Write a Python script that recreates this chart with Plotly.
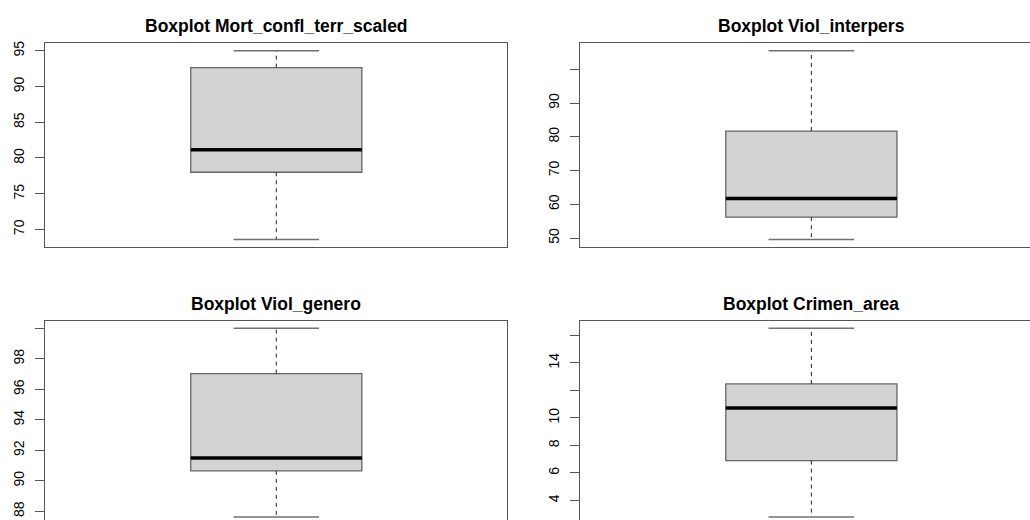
import plotly.graph_objects as go

# ---- data ----
titles = ["Boxplot Mort_confl_terr_scaled", "Boxplot Viol_interpers",
          "Boxplot Viol_genero", "Boxplot Crimen_area"]
lower_whisker = [68.6, 49.6, 87.63, 2.8]
q1_vals = [78.0, 56.2, 90.65, 6.89]
median_vals = [81.14, 61.7, 91.5, 10.71]
q3_vals = [92.63, 81.7, 97.03, 12.46]
upper_whisker = [95.0, 105.5, 100.0, 16.5]

tick_vals = [
    [70, 75, 80, 85, 90, 95],
    [50, 60, 70, 80, 90, 100],
    [88, 90, 92, 94, 96, 98, 100],
    [4, 6, 8, 10, 12, 14, 16],
]
tick_text = [
    ["70", "75", "80", "85", "90", "95"],
    ["50", "60", "70", "80", "90", ""],
    ["88", "90", "92", "94", "96", "98", ""],
    ["4", "6", "8", "10", "", "14", ""],
]
y_ranges = [[67.54, 96.06], [47.36, 107.74], [87.43, 100.49], [2.58, 17.05]]

# ---- layout / style ----
W, H = 1030, 520
pos = 1.0
box_w = 0.4
staple_w = 0.2
FONT = "Liberation Sans, Arial, sans-serif"
FRAME = "#555555"

x_domains = [[45.3 / W, 507.3 / W], [580.3 / W, 1.0], [45.3 / W, 507.3 / W], [580.3 / W, 1.0]]
y_domains = [[1 - 246 / H, 1 - 41.3 / H], [1 - 246 / H, 1 - 41.3 / H],
             [0.0, 1 - 320 / H], [0.0, 1 - 320 / H]]
x_ranges = [[0.46, 1.54], [0.46, 1.511], [0.46, 1.54], [0.46, 1.511]]
title_x = [276.3 / W, 811.0 / W, 276.3 / W, 811.0 / W]
title_y = [1 - 24.3 / H, 1 - 24.3 / H, 1 - 303.3 / H, 1 - 303.3 / H]
# frame sides visible in the (cropped) reference picture
right_cut = [False, True, False, True]
bottom_cut = [False, False, True, True]

fig = go.Figure()
layout = dict(width=W, height=H, margin=dict(l=0, r=0, t=0, b=0),
              paper_bgcolor="white", plot_bgcolor="white", showlegend=False,
              font=dict(family=FONT, color="black"))
annotations = []

for i in range(4):
    sfx = "" if i == 0 else str(i + 1)
    xa, ya = "x" + sfx, "y" + sfx
    # box body
    fig.add_trace(go.Box(
        x=[pos], q1=[q1_vals[i]], median=[median_vals[i]], q3=[q3_vals[i]],
        lowerfence=[q1_vals[i]], upperfence=[q3_vals[i]],
        width=box_w, whiskerwidth=0, boxpoints=False,
        fillcolor="#D3D3D3", line=dict(color="#666666", width=1.3),
        xaxis=xa, yaxis=ya, hoverinfo="skip"))
    # dashed whiskers
    fig.add_trace(go.Scatter(
        x=[pos, pos, None, pos, pos],
        y=[q3_vals[i], upper_whisker[i], None, q1_vals[i], lower_whisker[i]],
        mode="lines", line=dict(color="#222222", width=1, dash="4px,4px"),
        xaxis=xa, yaxis=ya, hoverinfo="skip"))
    # staples
    fig.add_trace(go.Scatter(
        x=[pos - staple_w / 2, pos + staple_w / 2, None, pos - staple_w / 2, pos + staple_w / 2],
        y=[upper_whisker[i], upper_whisker[i], None, lower_whisker[i], lower_whisker[i]],
        mode="lines", line=dict(color="#707070", width=1.5),
        xaxis=xa, yaxis=ya, hoverinfo="skip"))
    # median
    fig.add_trace(go.Scatter(
        x=[pos - box_w / 2, pos + box_w / 2], y=[median_vals[i], median_vals[i]],
        mode="lines", line=dict(color="black", width=3.5),
        xaxis=xa, yaxis=ya, hoverinfo="skip"))

    layout["xaxis" + sfx] = dict(
        domain=x_domains[i], range=x_ranges[i], anchor=ya,
        side="top" if bottom_cut[i] else "bottom",
        showticklabels=False, ticks="", showgrid=False, zeroline=False,
        showline=True, mirror=not bottom_cut[i], linecolor=FRAME, linewidth=1)
    layout["yaxis" + sfx] = dict(
        domain=y_domains[i], range=y_ranges[i], anchor=xa,
        tickvals=tick_vals[i], ticktext=tick_text[i], tickangle=-90,
        ticks="outside", ticklen=9, tickcolor=FRAME, tickwidth=1,
        ticklabelstandoff=6,
        tickfont=dict(family=FONT, size=14, color="black"),
        showgrid=False, zeroline=False,
        showline=True, mirror=not right_cut[i], linecolor=FRAME, linewidth=1)
    annotations.append(dict(
        text="<b>" + titles[i] + "</b>", x=title_x[i], y=title_y[i],
        xref="paper", yref="paper", xanchor="center", yanchor="middle",
        showarrow=False, font=dict(family=FONT, size=17.5, color="black")))

layout["annotations"] = annotations
fig.update_layout(**layout)
fig.write_html("out.html",
               config={"displayModeBar": False},
               post_script="document.body.style.margin='0px';"
                           "document.body.style.overflow='hidden';")
